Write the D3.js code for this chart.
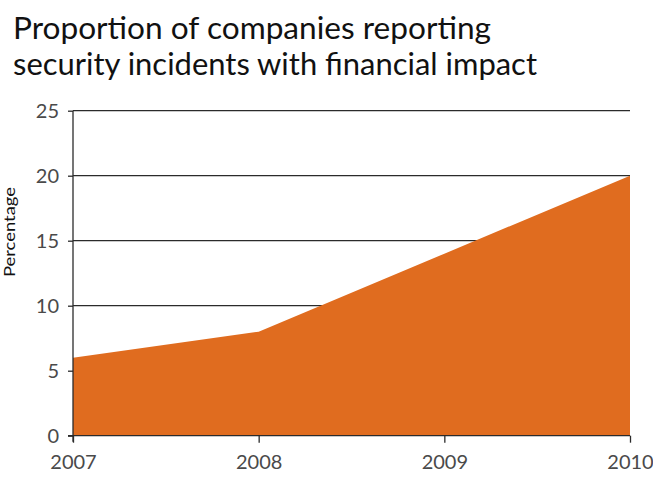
<!DOCTYPE html>
<html>
<head>
<meta charset="utf-8">
<script src="https://cdn.jsdelivr.net/npm/d3@7"></script>
<style>
  html, body { margin: 0; padding: 0; background: #fff; }
  svg { display: block; }
</style>
</head>
<body>
<svg id="chart" width="653" height="477"></svg>
<script>
// Share of companies reporting security incidents with a financial impact
const years = [2007, 2008, 2009, 2010];
const percentages = [6, 8, 14, 20];
const yTicks = [0, 5, 10, 15, 20, 25];
const titleLines = ["Proportion of companies reporting", "security incidents with financial impact"];
const yLabel = "Percentage";

const svg = d3.select("#chart");
const font = "Lato, 'Open Sans', sans-serif";

const x = d3.scaleLinear().domain([2007, 2010]).range([73, 630]);
const y = d3.scaleLinear().domain([0, 25]).range([435.7, 110.7]);

// Title, two lines
const titleWidths = [478, 524];
svg.append("g").selectAll("text")
  .data(titleLines)
  .join("text")
  .attr("x", 13)
  .attr("y", (d, i) => 38.5 + i * 36.6)
  .attr("font-family", font)
  .attr("font-size", 30)
  .attr("fill", "#111")
  .attr("textLength", (d, i) => titleWidths[i])
  .attr("lengthAdjust", "spacingAndGlyphs")
  .text(d => d);

// Horizontal gridlines
svg.append("g").selectAll("line")
  .data(yTicks.filter(t => t > 0))
  .join("line")
  .attr("x1", x(2007)).attr("x2", x(2010))
  .attr("y1", d => y(d)).attr("y2", d => y(d))
  .attr("stroke", "#2b2b2b")
  .attr("stroke-width", 1.3);

// Filled area
const data = years.map((yr, i) => ({ year: yr, value: percentages[i] }));
const area = d3.area()
  .x(d => x(d.year))
  .y0(y(0))
  .y1(d => y(d.value));
svg.append("path")
  .datum(data)
  .attr("d", area)
  .attr("fill", "#e06c1f");

// Y axis
const yAxis = svg.append("g")
  .attr("transform", `translate(${x(2007)},0)`)
  .call(d3.axisLeft(y).tickValues(yTicks).tickSize(5).tickPadding(9).tickFormat(d3.format("d")));
yAxis.select(".domain").attr("stroke", "#2b2b2b").attr("stroke-width", 1.3)
  .attr("d", `M0,${y(25)}V${y(0) + 6}`);
yAxis.selectAll(".tick line").attr("stroke", "#2b2b2b").attr("stroke-width", 1.3);
yAxis.selectAll(".tick text")
  .attr("font-family", font).attr("font-size", 20).attr("fill", "#4a4a4a");

// X axis
const xAxis = svg.append("g")
  .attr("transform", `translate(0,${y(0)})`)
  .call(d3.axisBottom(x).tickValues(years).tickSize(7).tickPadding(12).tickFormat(d3.format("d")));
xAxis.select(".domain").attr("stroke", "#2b2b2b").attr("stroke-width", 1.3)
  .attr("d", `M${x(2007) - 5},0H${x(2010)}`);
xAxis.selectAll(".tick line").attr("stroke", "#2b2b2b").attr("stroke-width", 1.3);
xAxis.selectAll(".tick text")
  .attr("font-family", font).attr("font-size", 20).attr("fill", "#4a4a4a");

// Y axis title
svg.append("text")
  .attr("transform", "translate(15,232) rotate(-90)")
  .attr("text-anchor", "middle")
  .attr("font-family", font)
  .attr("font-size", 15)
  .attr("fill", "#111")
  .attr("textLength", 90)
  .attr("lengthAdjust", "spacingAndGlyphs")
  .text(yLabel);
</script>
</body>
</html>
